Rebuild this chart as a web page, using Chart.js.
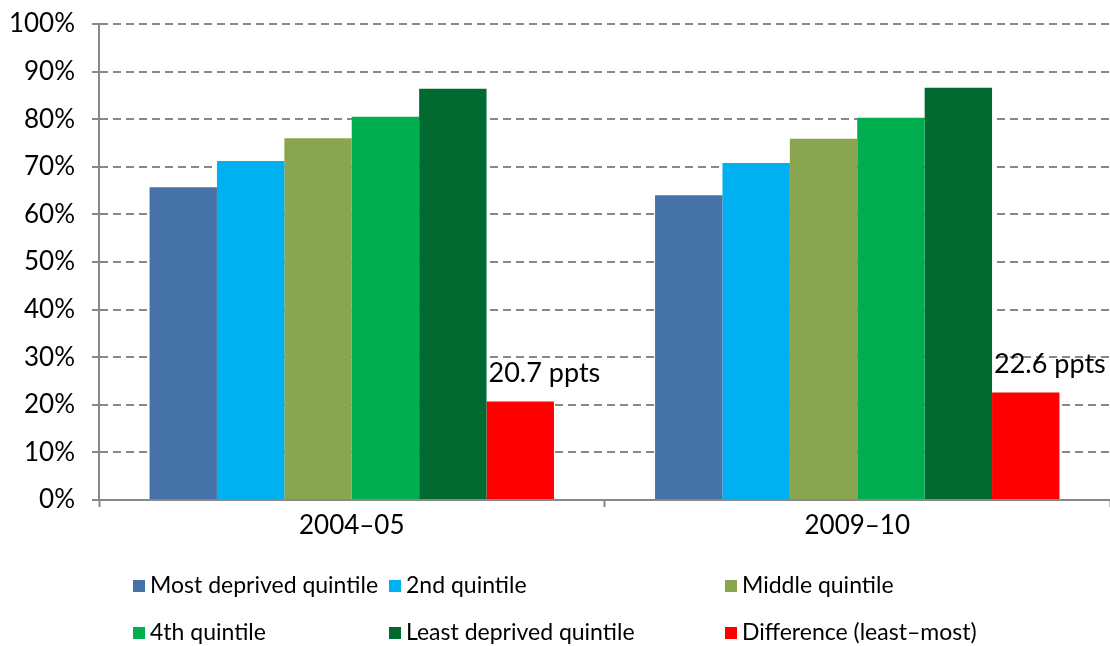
<!DOCTYPE html>
<html lang="en">
<head>
  <meta charset="UTF-8">
  <title>Quintile chart</title>
  <style>
    body { margin: 0; background: #ffffff; }
    .wrap { width: 1110px; height: 646px; position: relative; overflow: hidden; }
  </style>
  <script src="https://cdn.jsdelivr.net/npm/chart.js"></script>
</head>
<body>
  <div class="wrap">
    <canvas id="chart" width="1110" height="646"></canvas>
  </div>

  <script>
    // data
    const periods = ['2004–05', '2009–10'];
    const seriesNames = ['Most deprived quintile', '2nd quintile', 'Middle quintile',
      '4th quintile', 'Least deprived quintile', 'Difference (least–most)'];
    const mostDeprived = [65.7, 64.0];
    const second = [71.2, 70.8];
    const middle = [76.0, 75.9];
    const fourth = [80.5, 80.3];
    const leastDeprived = [86.4, 86.6];
    const difference = [20.7, 22.6];
    const diffLabels = ['20.7 ppts', '22.6 ppts'];
    const yTicks = [0, 10, 20, 30, 40, 50, 60, 70, 80, 90, 100];

    const colours = ['#4673a7', '#00b0f0', '#8aa54f', '#00ae4f', '#006a31', '#ff0000'];
    const FONT = 'Lato, "Noto Sans", sans-serif';

    const allValues = [mostDeprived, second, middle, fourth, leastDeprived, difference];

    // legend drawn in a 3-column grid below the axis
    const gridLegend = {
      id: 'gridLegend',
      afterDraw(chart) {
        const ctx = chart.ctx;
        const cols = [133, 389, 725];
        const rows = [586, 633];
        ctx.save();
        ctx.font = '23px ' + FONT;
        ctx.textBaseline = 'middle';
        ctx.textAlign = 'left';
        chart.data.datasets.forEach((ds, i) => {
          const x = cols[i % 3];
          const y = rows[Math.floor(i / 3)];
          ctx.fillStyle = ds.backgroundColor;
          ctx.fillRect(x, y - 6, 12, 12);
          ctx.fillStyle = '#000';
          ctx.fillText(ds.label, x + 17, y);
        });
        ctx.restore();
      }
    };

    // "ppts" labels above the difference bars
    const diffText = {
      id: 'diffText',
      afterDatasetsDraw(chart) {
        const ctx = chart.ctx;
        const meta = chart.getDatasetMeta(5);
        ctx.save();
        ctx.font = '27px ' + FONT;
        ctx.fillStyle = '#000';
        ctx.textAlign = 'left';
        ctx.textBaseline = 'alphabetic';
        meta.data.forEach((bar, i) => {
          ctx.fillText(diffLabels[i], bar.x - bar.width / 2 + 2, bar.y - 19);
        });
        ctx.restore();
      }
    };

    new Chart(document.getElementById('chart'), {
      type: 'bar',
      data: {
        labels: periods,
        datasets: allValues.map((vals, i) => ({
          label: seriesNames[i],
          data: vals,
          backgroundColor: colours[i],
          borderWidth: 0,
          categoryPercentage: 0.8,
          barPercentage: 1.0
        }))
      },
      options: {
        responsive: false,
        animation: false,
        layout: { padding: { top: 24, right: -4, left: 0, bottom: 0 } },
        plugins: {
          legend: { display: false },
          tooltip: { enabled: false }
        },
        scales: {
          x: {
            afterFit(scale) { scale.height = 146; },
            grid: {
              offset: true,
              drawOnChartArea: false,
              drawTicks: true,
              tickLength: 7,
              tickColor: '#888888',
              tickWidth: 2
            },
            border: { color: '#888888', width: 2 },
            ticks: {
              color: '#000',
              font: { family: FONT, size: 26 },
              padding: 3
            }
          },
          y: {
            min: 0,
            max: 100,
            afterFit(scale) {
              scale.width = 99;
              scale.paddingTop = 0;
              scale.paddingBottom = 0;
            },
            afterBuildTicks(scale) { scale.ticks = yTicks.map(v => ({ value: v })); },
            grid: {
              color: '#888888',
              lineWidth: 2,
              tickLength: 7,
              tickColor: '#888888',
              tickWidth: 2,
              tickBorderDash: []
            },
            border: { color: '#888888', width: 2, dash: [8, 5] },
            ticks: {
              color: '#000',
              font: { family: FONT, size: 26 },
              padding: 17,
              callback: v => v + '%'
            }
          }
        }
      },
      plugins: [diffText, gridLegend]
    });
  </script>
</body>
</html>
